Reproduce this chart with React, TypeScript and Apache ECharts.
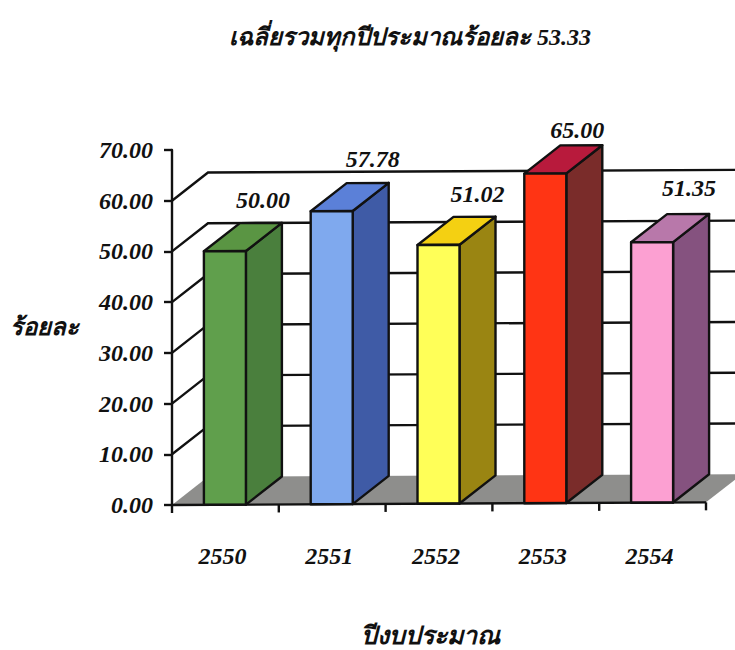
import React, { useEffect, useRef } from "react";
import * as echarts from "echarts";

const years = ["2550", "2551", "2552", "2553", "2554"];
const percentages = [50.0, 57.78, 51.02, 65.0, 51.35];
const wallLevels = [10, 20, 30, 40, 50, 60];
const titleText = "เฉลี่ยรวมทุกปีประมาณร้อยละ 53.33";
const yAxisTitle = "ร้อยละ";
const xAxisTitle = "ปีงบประมาณ";

const frontColors = ["#609f4c", "#7fa9ee", "#ffff58", "#ff3414", "#fca0d2"];
const sideColors = ["#4a7f3d", "#3f5ba6", "#9a8512", "#7a2c2a", "#85527f"];
const topColors = ["#5a9543", "#5b80d8", "#f4d012", "#b81a3c", "#b878aa"];

const FONT = "Liberation Serif, Noto Sans, sans-serif";
const DX = 36;
const DY = 28;
const BAR_W = 42;
const TILT = 0.005;
const INK = "#111111";
const LINE = 2.4;

export default function App() {
  const ref = useRef<HTMLDivElement>(null);

  useEffect(() => {
    if (!ref.current) return;
    const chart = echarts.init(ref.current, undefined, { renderer: "svg" });
    const labelNudge: number[][] = [[1, 0], [4, -1], [2, 0], [-5, 7], [0, -3]];

    const tilt = (cs: any, x: number, y: number) => [x, y - (x - cs.x) * TILT];

    const titleStyle = {
      fontFamily: FONT,
      fontStyle: "italic",
      fontWeight: "bold",
      fontSize: 24,
      fill: INK,
      align: "center",
      verticalAlign: "middle",
    };

    const option: any = {
      animation: false,
      backgroundColor: "#ffffff",
      grid: { left: 172, right: 29, top: 150, height: 355 },
      xAxis: {
        type: "category",
        data: years,
        axisLine: { show: false },
        axisTick: { show: false },
        splitLine: { show: false },
        axisLabel: {
          margin: 39,
          padding: [0, 6, 0, 0],
          fontFamily: FONT,
          fontStyle: "italic",
          fontWeight: "bold",
          fontSize: 24,
          color: INK,
        },
      },
      yAxis: {
        type: "value",
        min: 0,
        max: 70,
        interval: 10,
        splitLine: { show: false },
        axisLine: { show: true, lineStyle: { color: INK, width: LINE } },
        axisTick: { show: true, length: 8, lineStyle: { color: INK, width: LINE } },
        axisLabel: {
          margin: 19,
          formatter: (v: number) => v.toFixed(2),
          fontFamily: FONT,
          fontStyle: "italic",
          fontWeight: "bold",
          fontSize: 24,
          color: INK,
        },
      },
      graphic: [
        { type: "text", x: 410, y: 37, style: { text: titleText, ...titleStyle } },
        { type: "text", x: 44, y: 327, style: { text: yAxisTitle, ...titleStyle } },
        { type: "text", x: 430, y: 635, style: { text: xAxisTitle, ...titleStyle, fontSize: 25 } },
      ],
      series: [
        {
          type: "custom",
          coordinateSystem: "cartesian2d",
          silent: true,
          clip: false,
          z: 1,
          data: [0, ...wallLevels].map((v) => [0, v]),
          renderItem: (params: any, api: any) => {
            const cs = params.coordSys;
            const v = api.value(1);
            const y = api.coord([0, v])[1];
            const x0 = cs.x;
            const x1 = cs.x + cs.width;
            if (v === 0) {
              return {
                type: "polygon",
                shape: {
                  points: [
                    tilt(cs, x0, y),
                    tilt(cs, x0 + DX, y - DY),
                    tilt(cs, x1 + DX, y - DY),
                    tilt(cs, x1, y),
                  ],
                },
                style: { fill: "#8e8e8c", stroke: "none" },
              };
            }
            return {
              type: "polyline",
              shape: {
                points: [tilt(cs, x0, y), tilt(cs, x0 + DX, y - DY), tilt(cs, x1 + DX, y - DY)],
              },
              style: { fill: "none", stroke: INK, lineWidth: LINE },
            };
          },
        },
        {
          type: "custom",
          coordinateSystem: "cartesian2d",
          silent: true,
          clip: false,
          z: 2,
          data: percentages.map((v, i) => [i, v]),
          renderItem: (params: any, api: any) => {
            const cs = params.coordSys;
            const i = params.dataIndex;
            const top = api.coord([api.value(0), api.value(1)]);
            const base = api.coord([api.value(0), 0]);
            const l = top[0] - BAR_W / 2 - 0.5;
            const r = l + BAR_W;
            const stroke = { stroke: INK, lineWidth: LINE, lineJoin: "round" };
            const tl = tilt(cs, l, top[1]);
            const tr = tilt(cs, r, top[1]);
            const bl = tilt(cs, l, base[1]);
            const br = tilt(cs, r, base[1]);
            const btr = tilt(cs, r + DX, top[1] - DY);
            const btl = tilt(cs, l + DX, top[1] - DY);
            const bbr = tilt(cs, r + DX, base[1] - DY);
            return {
              type: "group",
              children: [
                {
                  type: "polygon",
                  shape: { points: [tr, btr, bbr, br] },
                  style: { fill: sideColors[i], ...stroke },
                },
                {
                  type: "polygon",
                  shape: { points: [tl, btl, btr, tr] },
                  style: { fill: topColors[i], ...stroke },
                },
                {
                  type: "polygon",
                  shape: { points: [tl, tr, br, bl] },
                  style: { fill: frontColors[i], ...stroke },
                },
                {
                  type: "text",
                  x: tl[0] + BAR_W / 2 + 37 + labelNudge[i][0],
                  y: tl[1] - 51 + labelNudge[i][1],
                  style: {
                    text: api.value(1).toFixed(2),
                    fontFamily: FONT,
                    fontStyle: "italic",
                    fontWeight: "bold",
                    fontSize: 24,
                    fill: INK,
                    align: "center",
                    verticalAlign: "middle",
                  },
                },
              ],
            };
          },
        },
        {
          type: "custom",
          coordinateSystem: "cartesian2d",
          silent: true,
          clip: false,
          z: 3,
          data: [[0, 0]],
          renderItem: (params: any, api: any) => {
            const cs = params.coordSys;
            const y = api.coord([0, 0])[1];
            const n = years.length;
            const ticks = Array.from({ length: n + 1 }, (_, k) => {
              const p = tilt(cs, cs.x + (k * cs.width) / n, y);
              return {
                type: "line",
                shape: { x1: p[0], y1: p[1], x2: p[0], y2: p[1] + 8 },
                style: { stroke: INK, lineWidth: LINE },
              };
            });
            const a = tilt(cs, cs.x, y);
            const b = tilt(cs, cs.x + cs.width, y);
            return {
              type: "group",
              children: [
                {
                  type: "line",
                  shape: { x1: a[0], y1: a[1], x2: b[0], y2: b[1] },
                  style: { stroke: INK, lineWidth: LINE },
                },
                ...ticks,
              ],
            };
          },
        },
      ],
    };

    chart.setOption(option);
    return () => chart.dispose();
  }, []);

  return (
    <div
      ref={ref}
      style={{ position: "absolute", left: 0, top: 0, width: 735, height: 650 }}
    />
  );
}
